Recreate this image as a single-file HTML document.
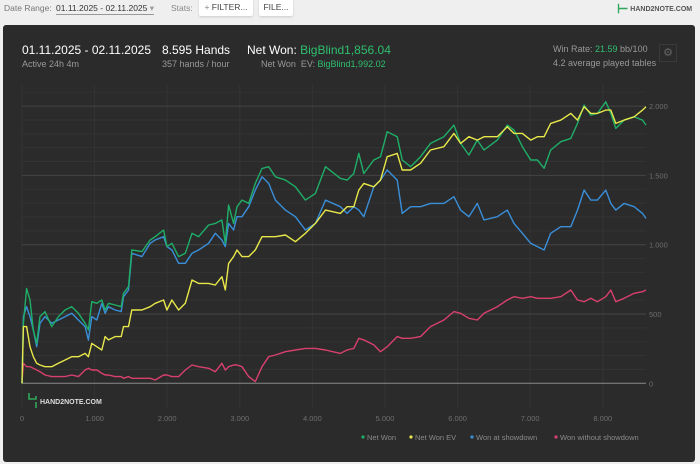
<!DOCTYPE html>
<html><head><meta charset="utf-8">
<style>
body{margin:0;width:700px;height:464px;background:#efefef;font-family:"Liberation Sans",sans-serif;overflow:hidden;position:relative}
.t{position:absolute;white-space:nowrap}
#panel{position:absolute;left:3px;top:25px;width:692px;height:437px;background:#2b2b2b;border-radius:3px}
.btn{position:absolute;background:#fff;border-radius:2px;box-shadow:0 1px 2px rgba(0,0,0,.15);font-size:8.5px;color:#444;height:17px;line-height:17px;text-align:center}
</style></head><body>
<div class="t" style="left:4px;top:3px;font-size:8.5px;color:#777">Date Range:</div>
<div class="t" style="left:56px;top:3px;font-size:8.5px;color:#333;border-bottom:1px solid #999">01.11.2025 - 02.11.2025 <span style="color:#999">▾</span></div>
<div class="t" style="left:171px;top:3px;font-size:8.5px;color:#888">Stats:</div>
<div class="btn" style="left:199px;top:-1px;width:54px"><span style="color:#888">+</span> FILTER...</div>
<div class="btn" style="left:259px;top:-1px;width:34px">FILE...</div>
<div class="t" style="left:617px;top:1px;font-size:7px;color:#555;font-weight:bold"><span style="color:#2fa65a;font-size:13px;vertical-align:middle">⊢</span> HAND2NOTE.COM</div>
<div id="panel"></div>
<div class="t" style="left:22px;top:43px;font-size:12px;color:#fff">01.11.2025 - 02.11.2025</div>
<div class="t" style="left:22px;top:59px;font-size:9px;color:#999">Active 24h 4m</div>
<div class="t" style="left:162px;top:43px;font-size:12px;color:#fff">8.595 Hands</div>
<div class="t" style="left:162px;top:59px;font-size:9px;color:#999">357 hands / hour</div>
<div class="t" style="left:247px;top:43px;font-size:12px;color:#fff">Net Won: <span style="color:#2fbf6f">BigBlind1,856.04</span></div>
<div class="t" style="left:261px;top:59px;font-size:9px;color:#999">Net Won &nbsp;EV: <span style="color:#2fbf6f">BigBlind1,992.02</span></div>
<div class="t" style="left:553px;top:44px;font-size:9px;color:#999">Win Rate: <span style="color:#2fbf6f">21.59</span> bb/100</div>
<div class="t" style="left:553px;top:58px;font-size:9px;color:#999">4.2 average played tables</div>
<div class="t" style="left:659px;top:44px;width:16px;height:16px;border:1px solid #3a3a3a;color:#666;font-size:11px;text-align:center;line-height:16px">⚙</div>
<svg id="chart" width="700" height="464" style="position:absolute;left:0;top:0"></svg>
<script>
const hands=[0,19,64,110,156,202,248,317,409,501,593,685,777,869,915,961,1030,1099,1145,1191,1283,1366,1398,1467,1513,1651,1766,1835,1950,1996,2065,2157,2249,2341,2432,2570,2662,2754,2800,2846,2915,2961,3030,3122,3214,3306,3398,3490,3628,3766,3904,4042,4180,4386,4478,4570,4639,4708,4846,4938,5030,5168,5237,5352,5489,5627,5811,5949,6041,6156,6271,6363,6547,6685,6777,6892,7007,7099,7191,7283,7421,7559,7651,7743,7835,7926,8041,8110,8179,8294,8432,8547,8595];
const netWon=[0,433,685,601,385,288,481,517,409,481,529,553,505,433,385,589,577,601,529,577,565,553,649,697,962,950,1034,1058,1106,986,1010,914,938,1082,1058,1142,1154,1178,1010,1286,1154,1274,1322,1298,1442,1550,1563,1490,1466,1418,1322,1370,1563,1478,1466,1514,1659,1514,1611,1635,1815,1779,1611,1563,1635,1731,1779,1863,1731,1647,1755,1683,1755,1863,1827,1707,1611,1611,1551,1683,1743,1767,1875,2007,1935,1947,2031,1947,1839,1899,1923,1899,1863];
const netWonEV=[0,409,409,264,192,144,132,120,120,144,168,192,192,216,192,288,264,240,337,313,337,337,409,409,529,529,553,577,601,529,601,529,577,745,721,721,709,769,673,865,914,962,914,914,962,1058,1058,1058,1070,1022,1082,1154,1250,1226,1274,1274,1394,1442,1418,1466,1635,1659,1539,1539,1587,1683,1707,1803,1731,1779,1755,1779,1779,1851,1803,1803,1755,1779,1779,1875,1899,1947,1899,1995,1947,1947,1971,1971,1875,1899,1923,1971,1995];
const wonShowdown=[0,481,553,481,385,264,433,481,433,457,481,505,457,409,312,481,457,577,505,553,529,517,625,673,938,914,1010,1034,1058,986,962,866,866,938,962,1010,1082,1034,986,1154,1106,1202,1202,1274,1394,1490,1442,1322,1250,1202,1106,1154,1322,1274,1226,1274,1250,1202,1418,1466,1539,1466,1226,1274,1274,1298,1298,1346,1250,1202,1298,1178,1202,1250,1154,1082,1010,986,962,1082,1130,1130,1250,1394,1322,1322,1394,1298,1250,1298,1274,1226,1190];
const wonNoShowdown=[0,144,120,120,108,96,84,60,48,48,48,60,48,96,108,96,96,72,60,60,48,48,36,48,36,36,36,24,60,60,48,48,96,132,120,108,84,144,96,120,132,132,120,48,12,120,192,204,228,240,252,252,240,216,240,252,325,313,277,228,264,337,325,325,337,409,457,517,505,469,457,505,553,601,625,613,625,613,613,613,625,673,601,589,613,589,625,673,589,613,649,661,673];
const xTicks=[0,1000,2000,3000,4000,5000,6000,7000,8000];
const xTickLabels=["0","1.000","2.000","3.000","4.000","5.000","6.000","7.000","8.000"];
const yTicks=[0,500,1000,1500,2000];
const yTickLabels=["0","500","1.000","1.500","2.000"];
const seriesNames=["Net Won","Net Won  EV","Won at showdown","Won without showdown"];

const svg=document.getElementById('chart');
const NS='http://www.w3.org/2000/svg';
const X0=22,XS=0.0726,Y0=383.3,YS=69.3/500;
const xs=v=>X0+v*XS, ys=v=>Y0-v*YS;
function mk(tag,attrs){const e=document.createElementNS(NS,tag);for(const k in attrs)e.setAttribute(k,attrs[k]);svg.appendChild(e);return e;}
for(let v=100;v<=2100;v+=100){if(v%500===0)continue;
 const g=mk('line',{x1:X0,x2:646,y1:ys(v),y2:ys(v),stroke:'#333',"stroke-width":1});
 
 }
xTicks.forEach((t,i)=>{
 const g=mk('line',{x1:xs(t),x2:xs(t),y1:85,y2:408,stroke:'#343434',"stroke-width":1});
 
 
 const l=mk('text',{x:xs(t),y:421,fill:'#6e6e6e',"font-size":7.5,"text-anchor":"middle","font-family":"Liberation Sans"});
 l.textContent=xTickLabels[i];
 
 
});
yTicks.forEach((t,i)=>{
 const g=mk('line',{x1:X0,x2:646,y1:ys(t),y2:ys(t),stroke:t===0?'#8a8a8a':'#444',"stroke-width":1});
 
 
 const l=mk('text',{x:649,y:ys(t)+3,fill:'#6e6e6e',"font-size":7.5,"font-family":"Liberation Sans"});
 l.textContent=yTickLabels[i];
 
 
});
const series=[[wonNoShowdown,'#d9406e','line-won-without-showdown'],[wonShowdown,'#3a8fd9','line-won-at-showdown'],[netWon,'#1fae67','line-net-won'],[netWonEV,'#e8e84a','line-net-won-ev']];
series.forEach(s=>{
 const d=s[0].map((v,i)=>(i?'L':'M')+xs(hands[i]).toFixed(1)+' '+ys(v).toFixed(1)).join('');
 const p=mk('path',{d:d,fill:'none',stroke:s[1],"stroke-width":1.4,"stroke-linejoin":"round"});
 
 
});
const wm=mk('text',{x:40,y:404,fill:'#ddd',"font-size":7,"font-weight":"bold","font-family":"Liberation Sans"});
wm.textContent='HAND2NOTE.COM';


const wl=mk('path',{d:'M29 393v6h7v-3h0M36 402v6',stroke:'#2fa65a',"stroke-width":1.6,fill:'none'});


const colors=['#1fae67','#e8e84a','#3a8fd9','#d9406e'];
const lx=[363,411,472,556];
seriesNames.forEach((n,i)=>{
 const c=mk('circle',{cx:lx[i],cy:437,r:1.6,fill:colors[i]});
 
 
 const t=mk('text',{x:lx[i]+4,y:440,fill:'#8a8a8a',"font-size":7.5,"font-family":"Liberation Sans","xml:space":"preserve"});
 t.textContent=n;
 
 
});
</script>
</body></html>
